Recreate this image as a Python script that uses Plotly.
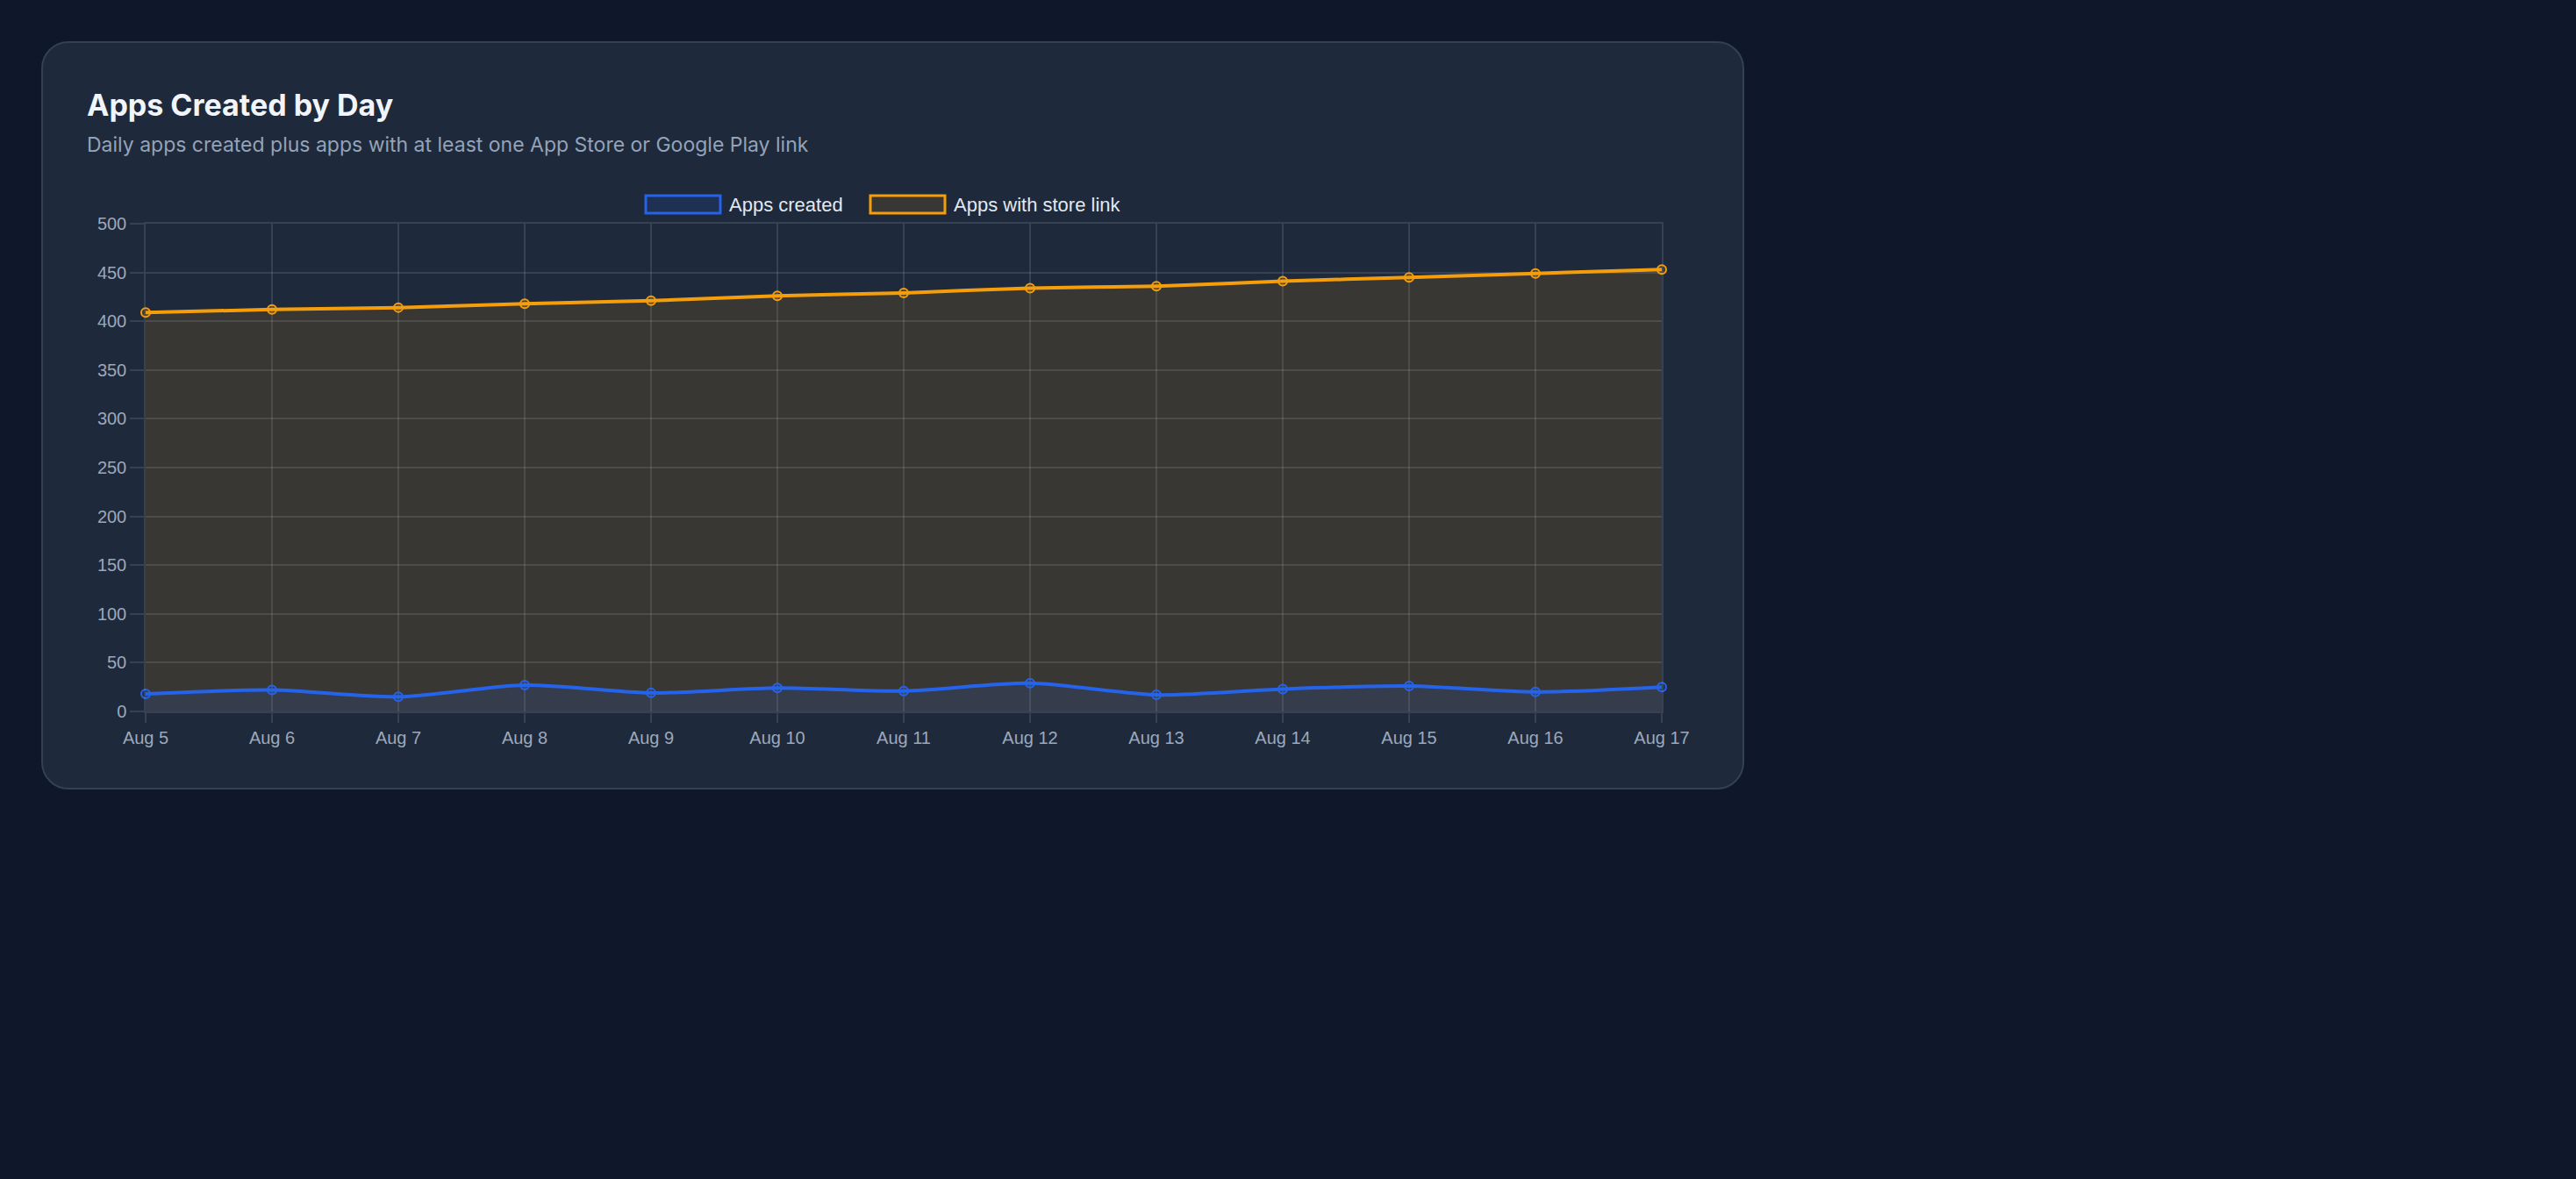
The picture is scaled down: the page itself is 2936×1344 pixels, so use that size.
import plotly.graph_objects as go

# values
dates = ["Aug 5", "Aug 6", "Aug 7", "Aug 8", "Aug 9", "Aug 10", "Aug 11",
         "Aug 12", "Aug 13", "Aug 14", "Aug 15", "Aug 16", "Aug 17"]
apps_created = [18, 22, 15, 27, 19, 24, 21, 29, 17, 23, 26, 20, 25]
apps_with_store_link = [409, 412, 414, 418, 421, 426, 429, 434, 436, 441, 445, 449, 453]

title = "Apps Created by Day"
subtitle = "Daily apps created plus apps with at least one App Store or Google Play link"

BLUE = "#2563eb"
ORANGE = "#f59e0b"
BLUE_FILL = "rgba(37,99,235,0.14)"
ORANGE_FILL = "rgba(245,158,11,0.12)"
GRID = "rgba(148,163,184,0.2)"

W, H = 2936, 1344
L, R, T, B = 166, 1042, 255, 533
PW = W - L - R
PH = H - T - B


# pixel -> paper helpers for the card and the legend
def px(x):
    return (x - L) / PW


def py(y):
    return (H - B - y) / PH


def rr_path(x0, y0, x1, y1, r):
    c = 0.5523 * r
    pts = [
        ("M", [(x0 + r, y0)]),
        ("L", [(x1 - r, y0)]),
        ("C", [(x1 - r + c, y0), (x1, y0 + r - c), (x1, y0 + r)]),
        ("L", [(x1, y1 - r)]),
        ("C", [(x1, y1 - r + c), (x1 - r + c, y1), (x1 - r, y1)]),
        ("L", [(x0 + r, y1)]),
        ("C", [(x0 + r - c, y1), (x0, y1 - r + c), (x0, y1 - r)]),
        ("L", [(x0, y0 + r)]),
        ("C", [(x0, y0 + r - c), (x0 + r - c, y0), (x0 + r, y0)]),
    ]
    return " ".join(cmd + " ".join(f"{px(a):.5f},{py(b):.5f}" for a, b in p)
                    for cmd, p in pts) + " Z"


fig = go.Figure()

fig.add_trace(go.Scatter(x=dates, y=apps_with_store_link, name="Apps with store link",
                         mode="lines+markers", line=dict(color=ORANGE, width=4, shape="spline", smoothing=0.8),
                         marker=dict(size=10, color=ORANGE_FILL, line=dict(color=ORANGE, width=2)),
                         fill="tozeroy", fillcolor=ORANGE_FILL, cliponaxis=False))
fig.add_trace(go.Scatter(x=dates, y=apps_created, name="Apps created",
                         mode="lines+markers", line=dict(color=BLUE, width=4, shape="spline", smoothing=0.8),
                         marker=dict(size=10, color=BLUE_FILL, line=dict(color=BLUE, width=2)),
                         fill="tozeroy", fillcolor=BLUE_FILL, cliponaxis=False))

shapes = [
    dict(type="path", xref="paper", yref="paper", layer="below",
         path=rr_path(48, 48, 1987, 899, 30),
         fillcolor="#1e293b", line=dict(color="#334155", width=2)),
    # legend boxes
    dict(type="rect", xref="paper", yref="paper", x0=px(736), x1=px(821), y0=py(243), y1=py(223),
         fillcolor=BLUE_FILL, line=dict(color=BLUE, width=3)),
    dict(type="rect", xref="paper", yref="paper", x0=px(992), x1=px(1077), y0=py(243), y1=py(223),
         fillcolor=ORANGE_FILL, line=dict(color=ORANGE, width=3)),
]

annotations = [
    dict(text=f"<b>{title}</b>", x=px(97), y=py(120), xref="paper", yref="paper",
         xanchor="left", yanchor="middle", showarrow=False,
         font=dict(family="Inter", size=34, color="#f1f5f9")),
    dict(text=subtitle, x=px(97), y=py(165), xref="paper", yref="paper",
         xanchor="left", yanchor="middle", showarrow=False,
         font=dict(family="Inter", size=23, color="#94a3b8")),
    dict(text="Apps created", x=px(829), y=py(233), xref="paper", yref="paper",
         xanchor="left", yanchor="middle", showarrow=False,
         font=dict(family="Liberation Sans", size=22, color="#e2e8f0")),
    dict(text="Apps with store link", x=px(1085), y=py(233), xref="paper", yref="paper",
         xanchor="left", yanchor="middle", showarrow=False,
         font=dict(family="Liberation Sans", size=22, color="#e2e8f0")),
]

fig.update_layout(
    width=W, height=H,
    margin=dict(l=L, r=R, t=T, b=B),
    paper_bgcolor="#0f172a",
    plot_bgcolor="rgba(0,0,0,0)",
    showlegend=False,
    shapes=shapes,
    annotations=annotations,
    font=dict(family="Liberation Sans", size=20, color="#9ca8ba"),
)

fig.update_xaxes(type="category", range=[0, len(dates) - 1],
                 showgrid=True, gridcolor=GRID, gridwidth=1.5,
                 ticks="outside", ticklen=11, tickcolor=GRID, tickwidth=1.5,
                 showline=True, linecolor=GRID, linewidth=1.5, mirror=True,
                 zeroline=False, tickfont=dict(size=20, color="#9ca8ba"))
fig.update_yaxes(range=[0, 500], tick0=0, dtick=50,
                 showgrid=True, gridcolor=GRID, gridwidth=1.5,
                 ticks="outside", ticklen=16, tickcolor=GRID, tickwidth=1.5,
                 showline=True, linecolor=GRID, linewidth=1.5, mirror=True,
                 zeroline=False, tickfont=dict(size=20, color="#9ca8ba"))

fig.write_html("out.html", config={"displayModeBar": False},
               post_script="document.body.style.margin='0';"
                           "document.body.style.background='#0f172a';"
                           "document.body.style.overflow='hidden';")
